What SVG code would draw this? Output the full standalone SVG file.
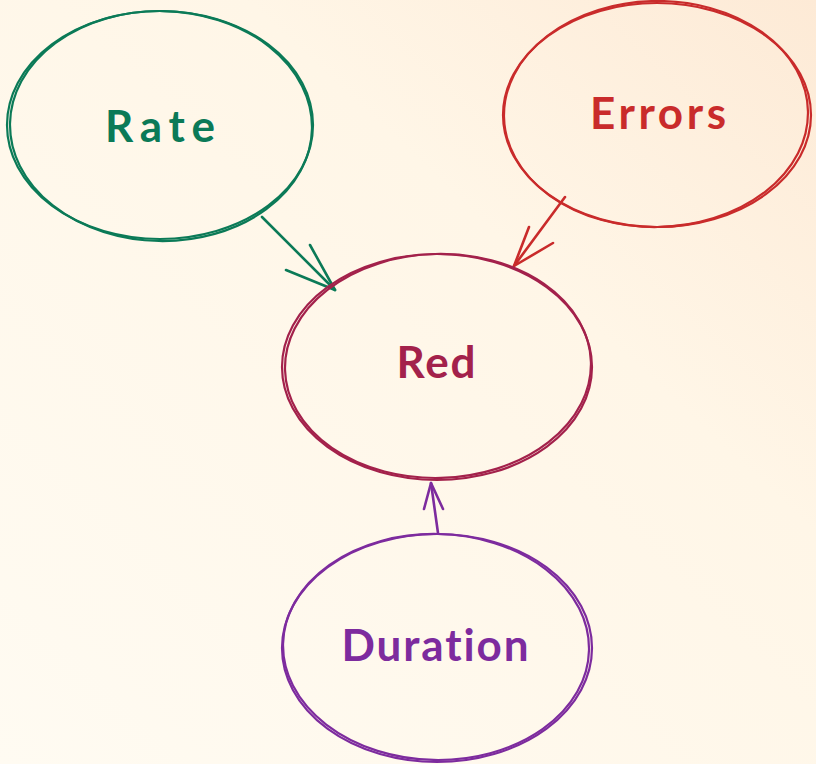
<svg xmlns="http://www.w3.org/2000/svg" width="816" height="764" viewBox="0 0 816 764">
<defs>
<linearGradient id="bg" x1="0" y1="1" x2="1" y2="0">
<stop offset="0" stop-color="#fffbf2"/>
<stop offset="0.65" stop-color="#fff6e7"/>
<stop offset="1" stop-color="#fdead6"/>
</linearGradient>
<style>
.e{fill:none;stroke-width:2.2;stroke-linecap:round}
.c{fill:none;stroke-width:2.6;stroke-linecap:round;stroke-linejoin:round}
.t{font-family:"Lato","Noto Sans",sans-serif;font-size:44px;font-weight:700;text-anchor:middle;font-variant-ligatures:none}
</style>
</defs>
<rect width="816" height="764" fill="url(#bg)"/>
<g id="connectors">
<g class="c" stroke="#0b7a57">
<path d="M262 217 L335 290"/>
<path d="M310 245 L335 290 M286 270 L335 290"/>
</g>
<g class="c" stroke="#c92b2b">
<path d="M565 197 L514 266"/>
<path d="M529 227 L514 266 M553 243 L514 266"/>
</g>
<g class="c" stroke="#7d2b9e">
<path d="M438 533 L431 483"/>
<path d="M424 509 L431 483 L443 509"/>
</g>
</g>
<g id="rate">
<ellipse class="e" stroke="#0b7a57" cx="160" cy="125" rx="153" ry="114"/>
<ellipse class="e" stroke="#0b7a57" cx="161" cy="126" rx="151" ry="115" transform="rotate(1 160 125)"/>
<text class="t" fill="#0b7a57" x="160" y="142" textLength="110" lengthAdjust="spacing">Rate</text>
</g>
<g id="errors">
<ellipse class="e" stroke="#c92b2b" cx="657" cy="115" rx="154" ry="112"/>
<ellipse class="e" stroke="#c92b2b" cx="656" cy="114" rx="152" ry="113" transform="rotate(-1 657 115)"/>
<text class="t" fill="#c92b2b" x="658" y="129" textLength="136" lengthAdjust="spacing">Errors</text>
</g>
<g id="red">
<ellipse class="e" stroke="#a3214b" cx="437" cy="367" rx="155" ry="113"/>
<ellipse class="e" stroke="#a3214b" cx="438" cy="366" rx="153" ry="112" transform="rotate(-1.5 437 367)"/>
<text class="t" fill="#a3214b" x="436" y="378" textLength="79" lengthAdjust="spacing">Red</text>
</g>
<g id="duration">
<ellipse class="e" stroke="#7d2b9e" cx="437" cy="648" rx="155" ry="114"/>
<ellipse class="e" stroke="#7d2b9e" cx="436" cy="647" rx="153" ry="113" transform="rotate(1.2 437 648)"/>
<text class="t" fill="#7d2b9e" x="435" y="661" textLength="187" lengthAdjust="spacing">Duration</text>
</g>
</svg>
